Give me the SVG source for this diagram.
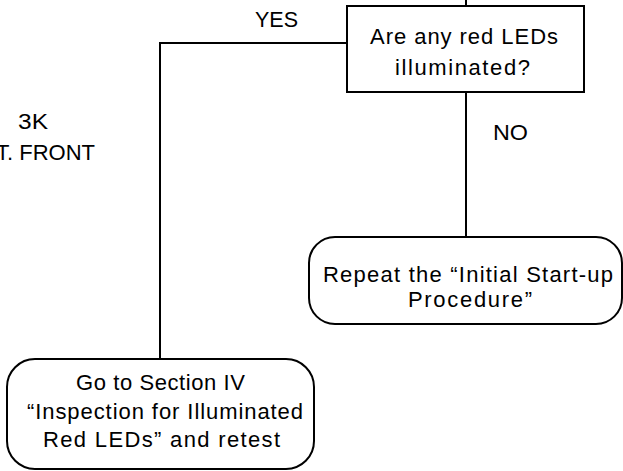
<svg xmlns="http://www.w3.org/2000/svg" width="623" height="471" viewBox="0 0 623 471">
  <style>
    .box { fill: #ffffff; stroke: #000000; stroke-width: 2; }
    .wire { fill: none; stroke: #000000; stroke-width: 2; }
    text { font-family: "Liberation Sans", Arial, sans-serif; font-size: 22px; fill: #000000; }
  </style>
  <rect width="623" height="471" fill="#ffffff"/>

  <!-- connectors -->
  <g id="connectors">
    <path class="wire" d="M466,0 V6"/>
    <path class="wire" d="M347,43 H160 V359"/>
    <path class="wire" d="M466,92 V237"/>
    <text x="255" y="27" textLength="43" lengthAdjust="spacingAndGlyphs">YES</text>
    <text x="493" y="140" textLength="35" lengthAdjust="spacingAndGlyphs">NO</text>
  </g>

  <!-- side note, partly off the left edge -->
  <g id="note">
    <text x="18" y="129" textLength="30" lengthAdjust="spacingAndGlyphs">3K</text>
    <text x="95" y="160" text-anchor="end">T. FRONT</text>
  </g>

  <g id="decision">
    <rect class="box" x="347" y="6" width="237" height="86"/>
    <text x="370" y="44" textLength="188" lengthAdjust="spacing">Are any red LEDs</text>
    <text x="395" y="75" textLength="135" lengthAdjust="spacing">illuminated?</text>
  </g>

  <g id="repeat">
    <rect class="box" x="309" y="237" width="313" height="87" rx="26" ry="26"/>
    <text x="323" y="282" textLength="290" lengthAdjust="spacing">Repeat the “Initial Start-up</text>
    <text x="408" y="307" textLength="124" lengthAdjust="spacing">Procedure”</text>
  </g>

  <g id="section-iv">
    <rect class="box" x="7" y="359" width="307" height="110" rx="28" ry="28"/>
    <text x="76" y="390" textLength="169" lengthAdjust="spacing">Go to Section IV</text>
    <text x="27" y="419" textLength="276" lengthAdjust="spacing">“Inspection for Illuminated</text>
    <text x="43" y="447" textLength="237" lengthAdjust="spacing">Red LEDs” and retest</text>
  </g>
</svg>
